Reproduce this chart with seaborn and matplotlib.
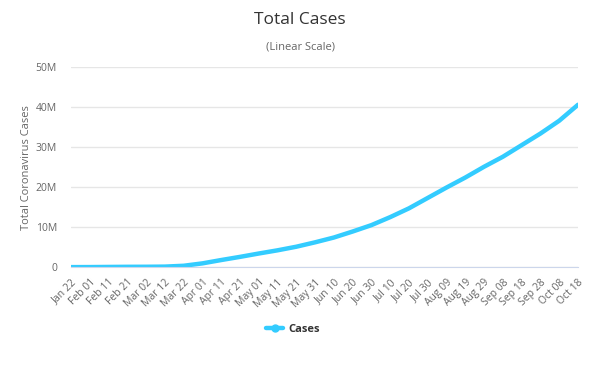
import pandas as pd
import seaborn as sns
import matplotlib
matplotlib.use('Agg')
import matplotlib.pyplot as plt
from matplotlib.ticker import FuncFormatter
from matplotlib.lines import Line2D

# cumulative cases, read every 10 days off the chart
dates = ["Jan 22", "Feb 01", "Feb 11", "Feb 21", "Mar 02", "Mar 12", "Mar 22",
         "Apr 01", "Apr 11", "Apr 21", "May 01", "May 11", "May 21", "May 31",
         "Jun 10", "Jun 20", "Jun 30", "Jul 10", "Jul 20", "Jul 30", "Aug 09",
         "Aug 19", "Aug 29", "Sep 08", "Sep 18", "Sep 28", "Oct 08", "Oct 18"]
cases = [580, 12000, 45000, 77000, 90000, 128000, 337000,
         935000, 1770000, 2560000, 3400000, 4200000, 5100000, 6200000,
         7400000, 8900000, 10500000, 12500000, 14700000, 17300000, 19900000,
         22400000, 25100000, 27600000, 30500000, 33400000, 36600000, 40600000]

df = pd.DataFrame({"day": range(len(dates)), "date": dates, "cases": cases})

sns.set_style("white")
plt.rcParams['font.family'] = ['Open Sans', 'DejaVu Sans']

line_color = "#33ccff"

fig = plt.figure(figsize=(5.91, 3.71), dpi=100)
ax = fig.add_axes([0.120, 0.280, 0.858, 0.539])

sns.lineplot(data=df, x="day", y="cases", color=line_color, linewidth=3.2, ax=ax)

ax.set_xlim(0, len(dates) - 1)
ax.set_ylim(0, 50_000_000)
ax.set_yticks(range(0, 50_000_001, 10_000_000))
ax.yaxis.set_major_formatter(FuncFormatter(lambda v, p: "0" if v == 0 else f"{int(v / 1e6)}M"))
ax.set_xticks(df["day"])
ax.set_xticklabels(dates, rotation=45, ha="right", rotation_mode="anchor")

ax.grid(axis="y", color="#e6e6e6", linewidth=1)
ax.set_axisbelow(True)
for side in ["top", "right", "left"]:
    ax.spines[side].set_visible(False)
ax.spines["bottom"].set_color("#ccd6eb")
ax.tick_params(axis="both", length=0, labelsize=7.5, labelcolor="#666666")
ax.tick_params(axis="y", pad=10)
ax.tick_params(axis="x", pad=7)

ax.set_xlabel("")
ax.set_ylabel("Total Coronavirus Cases", fontsize=8, color="#666666", labelpad=3)

fig.text(0.508, 0.945, "Total Cases", ha="center", va="center", fontsize=12.5, color="#333333")
fig.text(0.508, 0.873, "(Linear Scale)", ha="center", va="center", fontsize=8, color="#666666")

handle = Line2D([], [], color=line_color, linewidth=3.2, marker="o", markersize=5)
fig.legend([handle], ["Cases"], loc="center", bbox_to_anchor=(0.495, 0.112), frameon=False,
           prop={"weight": "bold", "size": 8}, handlelength=1.6, handletextpad=0.4, labelcolor="#333333")

fig.savefig("out.png", dpi=100)
plt.close(fig)
